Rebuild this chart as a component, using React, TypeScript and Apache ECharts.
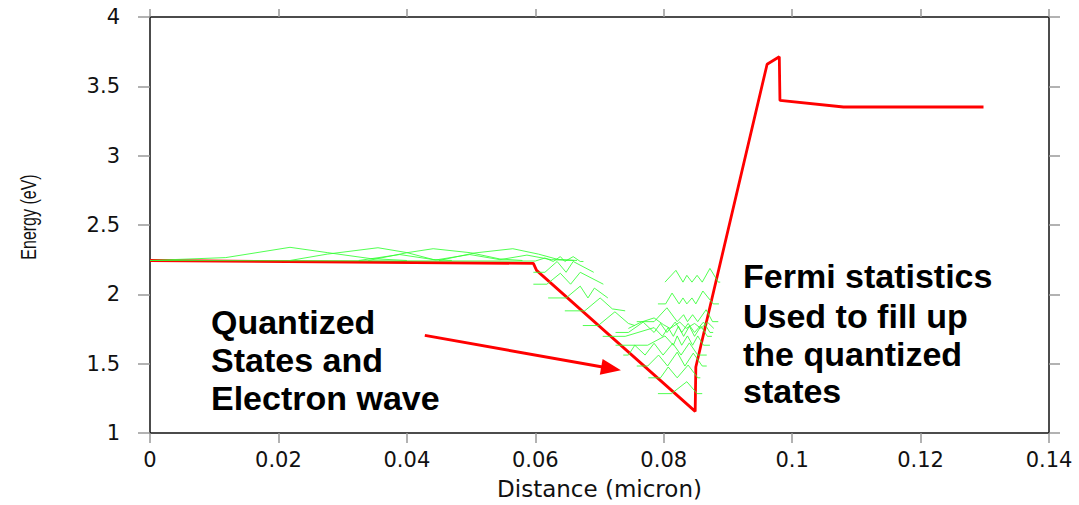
import React, { useEffect, useRef } from "react";
import * as echarts from "echarts";

type Pt = [number, number];

// Conduction band edge (red)
const conductionBand: Pt[] = [
  [0, 2.244], [0.0597, 2.223], [0.0602, 2.173], [0.0849, 1.156], [0.085, 1.476],
  [0.0961, 3.659], [0.098, 3.713], [0.0981, 3.398], [0.108, 3.351], [0.1298, 3.351],
];

// Extended states above the barrier (green)
const ext1: Pt[] = [[0, 2.244], [0.0118, 2.265], [0.0218, 2.339], [0.0276, 2.301], [0.0343, 2.258], [0.04, 2.244]];
const ext2: Pt[] = [[0.0218, 2.244], [0.0276, 2.29], [0.0355, 2.336], [0.04, 2.301], [0.0441, 2.251], [0.047, 2.244]];
const ext3: Pt[] = [[0.034, 2.244], [0.04, 2.3], [0.0441, 2.329], [0.0499, 2.3], [0.0545, 2.255], [0.058, 2.244]];
const ext4: Pt[] = [[0.045, 2.244], [0.0505, 2.298], [0.0565, 2.329], [0.0605, 2.29], [0.0635, 2.252], [0.0665, 2.244]];
const ext5: Pt[] = [[0.0325, 2.244], [0.0389, 2.287], [0.0445, 2.248], [0.0498, 2.287], [0.0545, 2.25], [0.0587, 2.283], [0.0625, 2.25], [0.066, 2.244]];
const ext6: Pt[] = [[0, 2.244], [0.06, 2.24], [0.0615, 2.262], [0.0628, 2.237], [0.0639, 2.272], [0.0646, 2.237], [0.0659, 2.272], [0.067, 2.237], [0.0675, 2.237]];

// Quantized states in the well (green)
const well1: Pt[] = [[0.0597, 2.159], [0.0615, 2.159], [0.0634, 2.237], [0.0648, 2.159], [0.0659, 2.237], [0.0691, 2.159]];
const well2: Pt[] = [[0.0597, 2.073], [0.0618, 2.073], [0.0639, 2.152], [0.0655, 2.073], [0.067, 2.159], [0.0706, 2.073]];
const well3: Pt[] = [[0.062, 1.974], [0.0648, 1.974], [0.067, 2.059], [0.0682, 1.974], [0.0692, 2.045], [0.0713, 1.974]];
const well4: Pt[] = [[0.0646, 1.881], [0.0677, 1.881], [0.0701, 1.974], [0.072, 1.895], [0.074, 1.881]];
const well5: Pt[] = [[0.0674, 1.775], [0.0698, 1.775], [0.0724, 1.874], [0.0745, 1.79], [0.0755, 1.775]];
const well6: Pt[] = [[0.0791, 1.284], [0.0812, 1.284], [0.0836, 1.37], [0.0852, 1.284], [0.086, 1.284]];
const well7: Pt[] = [[0.0776, 1.398], [0.0795, 1.398], [0.0807, 1.476], [0.0821, 1.398], [0.0838, 1.49], [0.0853, 1.398], [0.0857, 1.398]];
const well8: Pt[] = [[0.0758, 1.483], [0.0775, 1.483], [0.0792, 1.562], [0.0806, 1.483], [0.0821, 1.583], [0.0833, 1.483], [0.0846, 1.576], [0.086, 1.483], [0.0867, 1.483]];
const well9: Pt[] = [[0.0737, 1.562], [0.0745, 1.562], [0.0755, 1.633], [0.0771, 1.562], [0.0785, 1.647], [0.0799, 1.562], [0.0814, 1.647], [0.0827, 1.562], [0.084, 1.65], [0.0853, 1.562], [0.0867, 1.562]];
const well10: Pt[] = [[0.0725, 1.633], [0.0775, 1.633], [0.0802, 1.7], [0.0815, 1.633], [0.0821, 1.7], [0.0828, 1.633], [0.0837, 1.7], [0.0845, 1.633], [0.0853, 1.7], [0.0862, 1.633], [0.0872, 1.633]];
const well11: Pt[] = [[0.0705, 1.697], [0.074, 1.697], [0.0785, 1.76], [0.0798, 1.697], [0.0807, 1.76], [0.0815, 1.697], [0.0823, 1.77], [0.0831, 1.697], [0.084, 1.77], [0.0848, 1.697], [0.0858, 1.77], [0.0868, 1.697], [0.0875, 1.697]];
const well12: Pt[] = [[0.0725, 1.725], [0.0745, 1.725], [0.0768, 1.8], [0.0785, 1.725], [0.0795, 1.79], [0.0805, 1.725], [0.0818, 1.8], [0.0828, 1.725], [0.0838, 1.79], [0.0848, 1.725], [0.0862, 1.8], [0.0872, 1.725], [0.0877, 1.725]];
const well13: Pt[] = [[0.0745, 1.754], [0.0765, 1.8], [0.0785, 1.83], [0.08, 1.78], [0.081, 1.754], [0.0825, 1.8], [0.0835, 1.754], [0.0848, 1.79], [0.0858, 1.754], [0.0868, 1.8], [0.0878, 1.754]];
const well14: Pt[] = [[0.0758, 1.803], [0.0785, 1.803], [0.0805, 1.903], [0.0821, 1.803], [0.0831, 1.853], [0.0837, 1.803], [0.0845, 1.853], [0.0853, 1.803], [0.0866, 1.889], [0.0876, 1.803], [0.0885, 1.803]];
const well15: Pt[] = [[0.0791, 1.931], [0.0803, 1.931], [0.0813, 2.009], [0.0824, 1.931], [0.083, 1.974], [0.0836, 1.931], [0.0844, 1.974], [0.085, 1.931], [0.0861, 2.024], [0.0877, 1.931], [0.0886, 1.931]];
const well16: Pt[] = [[0.0802, 2.088], [0.0819, 2.173], [0.083, 2.088], [0.0836, 2.137], [0.0844, 2.088], [0.0852, 2.137], [0.086, 2.088], [0.0872, 2.187], [0.0885, 2.088], [0.0888, 2.088]];

const greenStates: Pt[][] = [
  ext1, ext2, ext3, ext4, ext5, ext6,
  well1, well2, well3, well4, well5, well6, well7, well8,
  well9, well10, well11, well12, well13, well14, well15, well16,
];

// Annotation arrow (data coordinates)
const arrowStart: Pt = [0.0428, 1.704];
const arrowEnd: Pt = [0.0718, 1.465];

const xMin = 0, xMax = 0.14, xStep = 0.02;
const yMin = 1, yMax = 4, yStep = 0.5;

const leftNoteLines = ["Quantized", "States and", "Electron wave"];
const rightNoteLines = ["Fermi statistics", "Used to fill up", "the quantized", "states"];
const yAxisTitle = "Energy (eV)";
const xAxisTitle = "Distance (micron)";

const axisFont = "DejaVu Sans";

export default function App() {
  const ref = useRef<HTMLDivElement>(null);
  useEffect(() => {
    if (!ref.current) return;
    const chart = echarts.init(ref.current, undefined, { renderer: "svg" });
    const lineCol = "#111";
    const tickCol = "#999";
    const commonX = {
      type: "value" as const, min: xMin, max: xMax, interval: xStep,
      splitLine: { show: false },
      axisLine: { onZero: false, lineStyle: { color: lineCol, width: 1.5 } },
    };
    const commonY = {
      type: "value" as const, min: yMin, max: yMax, interval: yStep,
      splitLine: { show: false },
      axisLine: { onZero: false, lineStyle: { color: lineCol, width: 1.5 } },
    };
    const noteStyle = { fontFamily: "Liberation Sans", fontWeight: "bold", fontSize: 34, fill: "#000" };
    const leftCenters = [322, 360, 398];
    const rightCenters = [276, 315.5, 354, 391];
    const graphics: any[] = [
      ...leftNoteLines.map((t, i) => ({
        type: "text", x: 211, y: leftCenters[i],
        style: { ...noteStyle, text: t, align: "left", verticalAlign: "middle" },
      })),
      ...rightNoteLines.map((t, i) => ({
        type: "text", x: 743, y: rightCenters[i],
        style: { ...noteStyle, text: t, align: "left", verticalAlign: "middle" },
      })),
      {
        type: "text", x: 29, y: 217, rotation: Math.PI / 2, scaleY: 1.35,
        style: {
          text: yAxisTitle, fontFamily: "Liberation Sans", fontSize: 16, fill: lineCol,
          align: "center", verticalAlign: "middle",
        },
      },
    ];
    chart.setOption({
      animation: false,
      backgroundColor: "#fff",
      grid: { left: 150, right: 30, top: 17, bottom: 66, containLabel: false },
      xAxis: [
        {
          ...commonX, position: "bottom",
          name: xAxisTitle, nameLocation: "middle", nameGap: 44,
          nameTextStyle: { fontFamily: axisFont, fontSize: 23, color: lineCol },
          axisTick: { inside: false, length: 10, lineStyle: { color: tickCol, width: 1.5 } },
          axisLabel: {
            margin: 16, fontFamily: axisFont, fontSize: 21, color: lineCol,
            formatter: (v: number) => (v === 0 ? "0" : String(+v.toFixed(2))),
          },
        },
        {
          ...commonX, position: "top",
          axisTick: { inside: false, length: 8, lineStyle: { color: tickCol, width: 1.5 } },
          axisLabel: { show: false },
        },
      ],
      yAxis: [
        {
          ...commonY, position: "left",
          axisTick: { inside: false, length: 12, lineStyle: { color: tickCol, width: 1.5 } },
          axisLabel: {
            margin: 30, fontFamily: axisFont, fontSize: 21, color: lineCol,
            formatter: (v: number) => String(+v.toFixed(1)),
          },
        },
        {
          ...commonY, position: "right",
          axisTick: { inside: false, length: 11, lineStyle: { color: tickCol, width: 1.5 } },
          axisLabel: { show: false },
        },
      ],
      series: [
        {
          type: "line", data: conductionBand, showSymbol: false, symbol: "none",
          lineStyle: { color: "#ff0000", width: 2.8 }, z: 3,
        },
        ...greenStates.map((s) => ({
          type: "line", data: s, showSymbol: false, symbol: "none",
          lineStyle: { color: "#33ff33", width: 1, opacity: 0.85 }, z: 4,
        })),
        {
          type: "line", data: [], showSymbol: false, z: 5,
          markLine: {
            silent: true, animation: false,
            symbol: ["none", "triangle"], symbolSize: [16, 20],
            label: { show: false },
            lineStyle: { color: "#ff0000", width: 3, type: "solid" },
            itemStyle: { color: "#ff0000" },
            data: [[{ coord: arrowStart }, { coord: arrowEnd }]],
          },
        },
      ],
      graphic: graphics,
    });
    return () => chart.dispose();
  }, []);
  return (
    <div
      ref={ref}
      style={{ position: "fixed", left: 0, top: 0, width: 1079, height: 505, background: "#fff" }}
    />
  );
}
